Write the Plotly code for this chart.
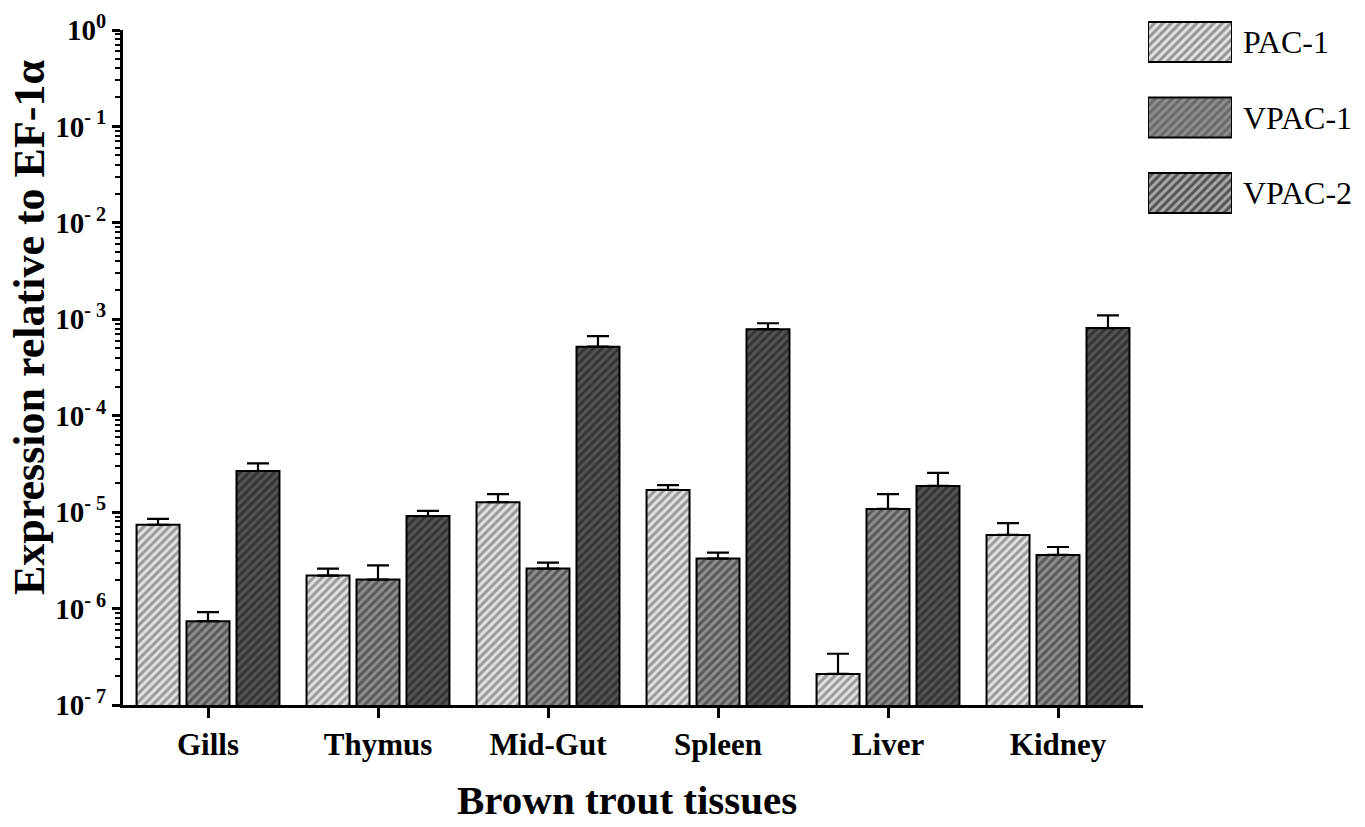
import plotly.graph_objects as go

# Tissues and receptor series
tissues = ["Gills", "Thymus", "Mid-Gut", "Spleen", "Liver", "Kidney"]
series = ["PAC-1", "VPAC-1", "VPAC-2"]

# Mean expression relative to EF-1α and the top of each error bar
pac1 = [7.4e-6, 2.2e-6, 1.27e-5, 1.7e-5, 2.1e-7, 5.8e-6]
pac1_top = [8.5e-6, 2.6e-6, 1.54e-5, 1.91e-5, 3.4e-7, 7.7e-6]
vpac1 = [7.4e-7, 2.0e-6, 2.6e-6, 3.3e-6, 1.08e-5, 3.6e-6]
vpac1_top = [9.2e-7, 2.8e-6, 3.0e-6, 3.8e-6, 1.54e-5, 4.35e-6]
vpac2 = [2.67e-5, 9.1e-6, 5.2e-4, 7.9e-4, 1.87e-5, 8.1e-4]
vpac2_top = [3.2e-5, 1.03e-5, 6.7e-4, 9.1e-4, 2.55e-5, 1.1e-3]

exponents = list(range(-7, 1))
tick_values = [10.0 ** e for e in exponents]
tick_labels = ["10<sup>%d</sup>" % e if e == 0 else "10<sup>- %d</sup>" % -e for e in exponents]
minor_values = [m * 10.0 ** e for e in exponents[:-1] for m in range(2, 10)]

# Fill styles per series: background, stripe colour
bg_colors = ["#e2e2e2", "#8e8e8e", "#545454"]
fg_colors = ["#505050", "#202020", "#141414"]

SERIF = "Liberation Serif, Times New Roman, serif"

fig = go.Figure()

for i, (name, vals, tops) in enumerate(zip(series, [pac1, vpac1, vpac2],
                                           [pac1_top, vpac1_top, vpac2_top])):
    fig.add_trace(go.Bar(
        name=name,
        x=tissues,
        y=vals,
        marker=dict(
            color=bg_colors[i],
            line=dict(color="black", width=2),
            pattern=dict(shape="/", fgcolor=fg_colors[i], bgcolor=bg_colors[i],
                         size=6, solidity=0.5, fillmode="overlay"),
        ),
        error_y=dict(type="data", symmetric=False,
                     array=[t - v for t, v in zip(tops, vals)],
                     arrayminus=[0] * len(vals),
                     color="black", thickness=2.2, width=11),
        showlegend=False,
    ))

# Key swatches drawn as a small horizontal bar chart to the right
fig.add_trace(go.Bar(
    x=[1, 1, 1],
    y=series,
    orientation="h",
    width=0.53,
    xaxis="x2",
    yaxis="y2",
    marker=dict(
        color=bg_colors,
        line=dict(color="black", width=2),
        pattern=dict(shape="/", fgcolor=fg_colors, bgcolor=bg_colors,
                     size=6, solidity=0.5, fillmode="overlay"),
    ),
    showlegend=False,
    hoverinfo="skip",
))

W, H = 1365, 827
left, right, top, bottom = 123, 10, 0, 122
pw = W - left - right
ph = H - top - bottom


def px_x(x):
    return (x - left) / pw


def px_y(y):
    return (H - bottom - y) / ph


fig.update_layout(
    width=W, height=H,
    margin=dict(l=left, r=right, t=top, b=bottom, autoexpand=False),
    paper_bgcolor="white",
    plot_bgcolor="white",
    barmode="group",
    bargap=0.118,
    bargroupgap=0.14,
    font=dict(family=SERIF, color="black"),
    xaxis=dict(
        domain=[0, px_x(1143)],
        range=[-0.5, 5.5],
        showline=True, linecolor="black", linewidth=3,
        ticks="outside", ticklen=10, tickwidth=3, tickcolor="black",
        tickfont=dict(family=SERIF, size=31, color="black", weight="bold"),
        showgrid=False, zeroline=False,
    ),
    yaxis=dict(
        type="log",
        domain=[0, px_y(30)],
        range=[-7, 0],
        tickmode="array", tickvals=tick_values, ticktext=tick_labels,
        showline=True, linecolor="black", linewidth=3,
        ticks="outside", ticklen=8, tickwidth=3, tickcolor="black",
        minor=dict(tickmode="array", tickvals=minor_values, ticks="outside",
                   ticklen=5, tickwidth=2, tickcolor="black", showgrid=False),
        tickfont=dict(family=SERIF, size=29, color="black", weight="bold"),
        showgrid=False, zeroline=False,
    ),
    xaxis2=dict(
        domain=[px_x(1148), px_x(1232)],
        range=[0, 1],
        anchor="y2",
        visible=False,
    ),
    yaxis2=dict(
        domain=[px_y(230.75), px_y(4.25)],
        anchor="x2",
        side="right",
        type="category",
        categoryorder="array", categoryarray=series,
        autorange="reversed",
        showline=False, ticks="", showgrid=False, zeroline=False,
        ticklabelstandoff=10,
        tickfont=dict(family=SERIF, size=32, color="black"),
    ),
    annotations=[
        dict(text="Expression relative to EF-1α",
             x=px_x(29), y=px_y(328), xref="paper", yref="paper",
             xanchor="center", yanchor="middle", textangle=-90, showarrow=False,
             font=dict(family=SERIF, size=44, color="black", weight="bold")),
        dict(text="Brown trout tissues",
             x=px_x(627), y=px_y(800), xref="paper", yref="paper",
             xanchor="center", yanchor="middle", showarrow=False,
             font=dict(family=SERIF, size=41, color="black", weight="bold")),
    ],
)

fig.write_html("out.html")
